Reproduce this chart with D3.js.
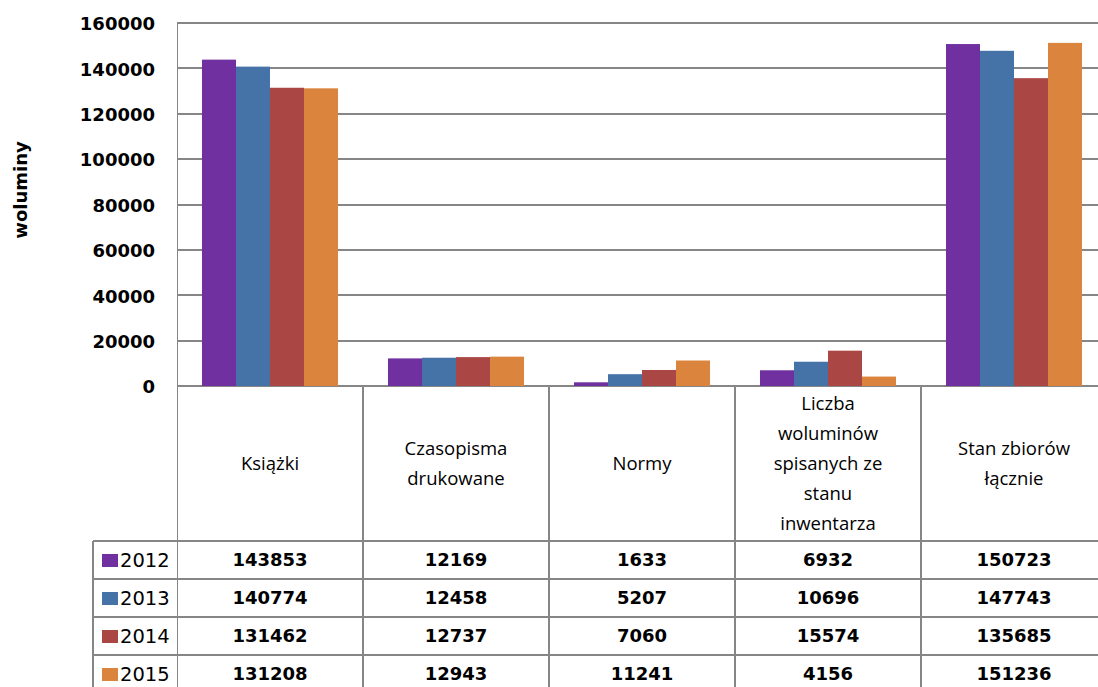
<!DOCTYPE html>
<html>
<head>
<meta charset="utf-8">
<script src="https://cdn.jsdelivr.net/npm/d3@7"></script>
<style>
  body { margin: 0; background: #fff; }
  svg { display: block; }
</style>
</head>
<body>
<svg id="chart" width="1098" height="687"></svg>
<script>
// dane
const categories = ["Książki", "Czasopisma drukowane", "Normy", "Liczba woluminów spisanych ze stanu inwentarza", "Stan zbiorów łącznie"];
const categoryLines = [["Książki"], ["Czasopisma", "drukowane"], ["Normy"], ["Liczba", "woluminów", "spisanych ze", "stanu", "inwentarza"], ["Stan zbiorów", "łącznie"]];
const years = ["2012", "2013", "2014", "2015"];
const values2012 = [143853, 12169, 1633, 6932, 150723];
const values2013 = [140774, 12458, 5207, 10696, 147743];
const values2014 = [131462, 12737, 7060, 15574, 135685];
const values2015 = [131208, 12943, 11241, 4156, 151236];
const yTicks = [0, 20000, 40000, 60000, 80000, 100000, 120000, 140000, 160000];
const colors = ["#7030A0", "#4572A7", "#AA4643", "#DB843D"];

const series = [values2012, values2013, values2014, values2015];

const svg = d3.select("#chart");
const grid = "#868686";

const plot = {left: 177, right: 1107, top: 23, bottom: 386};
const rowH = 38;
const headerBottom = 541;
const legendLeft = 93;

const x0 = d3.scaleBand().domain(categories).range([plot.left, plot.right]);
const x1 = d3.scaleBand().domain(years).range([0, x0.bandwidth()]).paddingOuter(0.735);
const y = d3.scaleLinear().domain([0, 160000]).range([plot.bottom, plot.top]);
const color = d3.scaleOrdinal().domain(years).range(colors);

// linie siatki
svg.append("g").selectAll("line")
  .data(yTicks)
  .join("line")
  .attr("x1", plot.left).attr("x2", 1098)
  .attr("y1", d => Math.round(y(d))).attr("y2", d => Math.round(y(d)))
  .attr("stroke", grid).attr("stroke-width", 2);

// etykiety osi Y
svg.append("g").selectAll("text")
  .data(yTicks)
  .join("text")
  .attr("x", 155)
  .attr("y", d => y(d) + 1)
  .attr("dy", "0.35em")
  .attr("text-anchor", "end")
  .attr("font-family", "DejaVu Sans")
  .attr("font-weight", "bold")
  .attr("font-size", 18)
  .text(d => d);

svg.append("text")
  .attr("transform", "translate(27,190) rotate(-90)")
  .attr("text-anchor", "middle")
  .attr("font-family", "DejaVu Sans")
  .attr("font-weight", "bold")
  .attr("font-size", 18)
  .text("woluminy");

// słupki
const groups = svg.append("g").selectAll("g")
  .data(categories)
  .join("g")
  .attr("transform", d => `translate(${x0(d)},0)`);

groups.selectAll("rect")
  .data((d, i) => years.map((yr, j) => ({year: yr, value: series[j][i]})))
  .join("rect")
  .attr("x", d => x1(d.year))
  .attr("width", x1.bandwidth())
  .attr("y", d => y(d.value))
  .attr("height", d => y(0) - y(d.value))
  .attr("fill", d => color(d.year));

// tabela
const table = svg.append("g").attr("stroke", grid).attr("stroke-width", 2);

// oś pionowa
svg.append("line")
  .attr("x1", plot.left + 0.5).attr("x2", plot.left + 0.5)
  .attr("y1", plot.top).attr("y2", 687)
  .attr("stroke", grid).attr("stroke-width", 1);

table.selectAll("line.col")
  .data(categories.slice(1))
  .join("line")
  .attr("class", "col")
  .attr("x1", d => Math.round(x0(d))).attr("x2", d => Math.round(x0(d)))
  .attr("y1", plot.bottom).attr("y2", 687);

table.selectAll("line.row")
  .data(d3.range(years.length + 1))
  .join("line")
  .attr("class", "row")
  .attr("x1", legendLeft).attr("x2", 1098)
  .attr("y1", i => headerBottom + i * rowH).attr("y2", i => headerBottom + i * rowH);

table.append("line")
  .attr("x1", legendLeft).attr("x2", legendLeft)
  .attr("y1", headerBottom).attr("y2", 687);

// nagłówki kategorii
const headerMid = (plot.bottom + headerBottom) / 2;
const lineH = 30;
svg.append("g").selectAll("text")
  .data(categories)
  .join("text")
  .attr("x", d => x0(d) + x0.bandwidth() / 2)
  .attr("text-anchor", "middle")
  .attr("font-family", "Open Sans")
  .attr("font-size", 18.5)
  .each(function(d, i) {
    const lines = categoryLines[i];
    const start = headerMid - (lines.length - 1) * lineH / 2;
    d3.select(this).selectAll("tspan")
      .data(lines)
      .join("tspan")
      .attr("x", x0(d) + x0.bandwidth() / 2)
      .attr("y", (l, k) => start + k * lineH)
      .attr("dy", "0.35em")
      .text(l => l);
  });

// wiersze z wartościami
const rows = svg.append("g").selectAll("g")
  .data(years)
  .join("g")
  .attr("transform", (d, i) => `translate(0,${headerBottom + i * rowH + rowH / 2})`);

rows.append("rect")
  .attr("x", 102).attr("y", -6)
  .attr("width", 16).attr("height", 13)
  .attr("fill", d => color(d));

rows.append("text")
  .attr("x", 120)
  .attr("dy", "0.35em")
  .attr("font-family", "DejaVu Sans")
  .attr("font-size", 19.5)
  .text(d => d);

rows.selectAll("text.val")
  .data((d, j) => categories.map((c, i) => ({c, v: series[j][i]})))
  .join("text")
  .attr("class", "val")
  .attr("x", d => x0(d.c) + x0.bandwidth() / 2)
  .attr("dy", "0.35em")
  .attr("text-anchor", "middle")
  .attr("font-family", "DejaVu Sans")
  .attr("font-weight", "bold")
  .attr("font-size", 18)
  .text(d => d.v);
</script>
</body>
</html>
